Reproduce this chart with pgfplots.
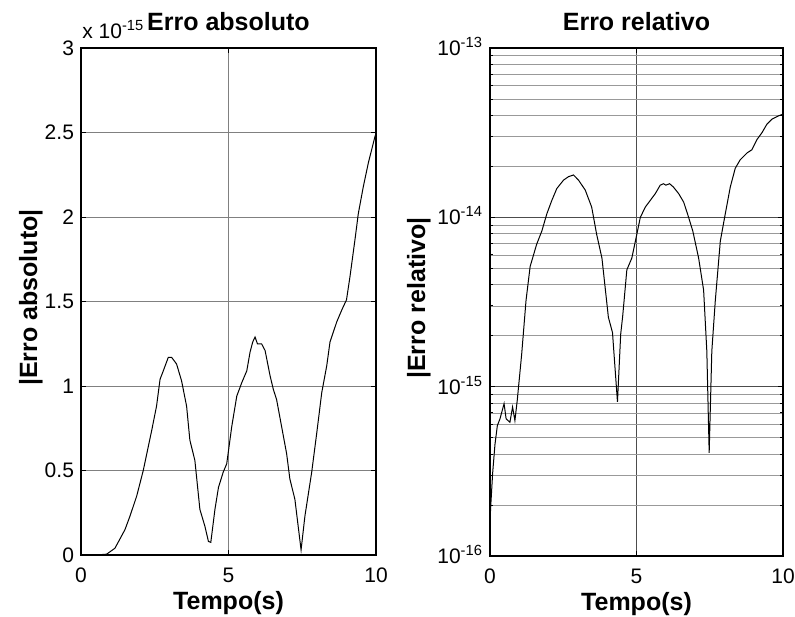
\documentclass[border=0pt]{standalone}
\usepackage{fontspec}
\setmainfont{Liberation Sans}
\usepackage{pgfplots}
\pgfplotsset{compat=1.18}
\begin{document}
\begin{tikzpicture}
\pgfplotsset{
  mat/.style={
    scale only axis,
    xmin=0, xmax=10,
    xtick={0,5,10},
    tick align=inside,
    major tick length=2.5pt,
    minor tick length=1.5pt,
    every tick/.style={black, line width=0.5pt},
    axis line style={black, line width=0.7pt},
    xmajorgrids, ymajorgrids,
    major grid style={black!50, line width=0.4pt},
    minor grid style={black!40, line width=0.4pt},
    tick label style={font=\fontsize{10.5}{12}\selectfont},
    /pgf/number format/assume math mode=true,
    xticklabel style={yshift=-3pt},
    title style={at={(0.5,1)}, anchor=base, yshift=3pt, font=\fontsize{12.5}{14}\selectfont\bfseries},
    xlabel style={at={(0.5,0)}, anchor=base, yshift=-27pt, font=\fontsize{12.5}{14}\selectfont\bfseries},
    clip=false,
  }
}
\begin{axis}[mat,
  at={(40.5pt,30.5pt)}, anchor=south west,
  width=147.5pt, height=253.5pt,
  ymin=0, ymax=3,
  ytick={0,0.5,1,1.5,2,2.5,3},
  title={Erro absoluto},
  xlabel={Tempo(s)},
  ylabel={|Erro absoluto|},
  ylabel style={at={(0,0.5)}, anchor=base, yshift=22pt, xshift=2pt, font=\fontsize{12.5}{14}\selectfont\bfseries},
]
\addplot[black, line width=0.5pt] coordinates {
(0,0) (0.5,0) (0.87,0.005) (1.15,0.04) (1.49,0.15) (1.66,0.23) (1.89,0.35)
(2.11,0.50) (2.40,0.74) (2.56,0.88) (2.68,1.04) (2.79,1.09) (2.96,1.17)
(3.07,1.17) (3.24,1.13) (3.41,1.03) (3.58,0.88) (3.69,0.68) (3.86,0.56)
(4.03,0.27) (4.20,0.17) (4.32,0.08) (4.40,0.075) (4.54,0.27) (4.66,0.40)
(4.82,0.49) (4.94,0.54) (5.11,0.76) (5.28,0.94) (5.45,1.02) (5.62,1.09)
(5.73,1.20) (5.82,1.26) (5.90,1.29) (5.98,1.25) (6.12,1.25) (6.24,1.21)
(6.41,1.06) (6.52,0.98) (6.63,0.92) (6.80,0.76) (6.97,0.60) (7.08,0.45)
(7.25,0.33) (7.46,0.03) (7.59,0.23) (7.82,0.49) (7.99,0.72) (8.16,0.96)
(8.33,1.12) (8.44,1.26) (8.67,1.38) (8.84,1.45) (9.00,1.51) (9.12,1.65)
(9.29,1.87) (9.40,2.02) (9.57,2.18) (9.74,2.32) (9.97,2.48) (10,2.49)
};
\node[anchor=base west, font=\fontsize{10.5}{12}\selectfont, inner sep=0pt] at (rel axis cs:0,1) [xshift=0.5pt, yshift=5pt] {x 10\textsuperscript{-15}};
\end{axis}
\begin{axis}[mat,
  at={(245pt,30pt)}, anchor=south west,
  width=146.5pt, height=254pt,
  ymode=log,
  ymin=1e-16, ymax=1e-13,
  ytick={1e-16,1e-15,1e-14,1e-13},
  yticklabels={10\textsuperscript{-16},10\textsuperscript{-15},10\textsuperscript{-14},10\textsuperscript{-13}},
  yticklabel style={anchor=base east, yshift=-3.75pt},
  minor ytick={2e-16,3e-16,4e-16,5e-16,6e-16,7e-16,8e-16,9e-16,
               2e-15,3e-15,4e-15,5e-15,6e-15,7e-15,8e-15,9e-15,
               2e-14,3e-14,4e-14,5e-14,6e-14,7e-14,8e-14,9e-14},
  yminorgrids,
  major grid style={black!70, line width=0.4pt},
  title={Erro relativo},
  xlabel={Tempo(s)},
  ylabel={|Erro relativo|},
  ylabel style={at={(0,0.5)}, anchor=base, yshift=32.5pt, xshift=2pt, font=\fontsize{12.5}{14}\selectfont\bfseries},
]
\addplot[black, line width=0.5pt] coordinates {
(0,1.62e-16) (0.03,2.04e-16) (0.09,3.09e-16) (0.17,4.57e-16) (0.25,5.89e-16)
(0.34,6.46e-16) (0.48,7.94e-16) (0.55,6.46e-16) (0.68,6.17e-16) (0.77,7.59e-16)
(0.85,6.31e-16) (0.93,8.32e-16) (1.08,1.55e-15) (1.23,3.24e-15) (1.37,5.13e-15)
(1.59,6.92e-15) (1.77,8.32e-15) (1.94,1.05e-14) (2.11,1.26e-14) (2.28,1.48e-14)
(2.51,1.66e-14) (2.68,1.74e-14) (2.85,1.78e-14) (3.02,1.66e-14) (3.25,1.45e-14)
(3.47,1.15e-14) (3.64,7.94e-15) (3.82,5.75e-15) (4.04,2.57e-15) (4.18,2.09e-15)
(4.35,8.13e-16) (4.46,2.04e-15) (4.53,2.63e-15) (4.67,4.90e-15) (4.84,5.75e-15)
(5.01,7.94e-15) (5.13,1.00e-14) (5.30,1.15e-14) (5.47,1.26e-14) (5.64,1.38e-14)
(5.81,1.55e-14) (5.92,1.58e-14) (6.00,1.55e-14) (6.13,1.58e-14) (6.26,1.51e-14)
(6.44,1.38e-14) (6.61,1.23e-14) (6.74,1.05e-14) (6.92,8.32e-15) (7.12,5.75e-15)
(7.29,3.72e-15) (7.40,1.62e-15) (7.48,4.07e-16) (7.57,1.62e-15) (7.69,3.24e-15)
(7.86,7.24e-15) (8.03,1.05e-14) (8.20,1.51e-14) (8.37,1.95e-14) (8.54,2.19e-14)
(8.77,2.40e-14) (8.94,2.51e-14) (9.11,2.88e-14) (9.28,3.16e-14) (9.45,3.55e-14)
(9.62,3.80e-14) (9.85,3.98e-14) (10,4.07e-14)
};
\end{axis}
\pgfresetboundingbox
\useasboundingbox (0,0) rectangle (397.5pt,308pt);
\end{tikzpicture}
\end{document}
